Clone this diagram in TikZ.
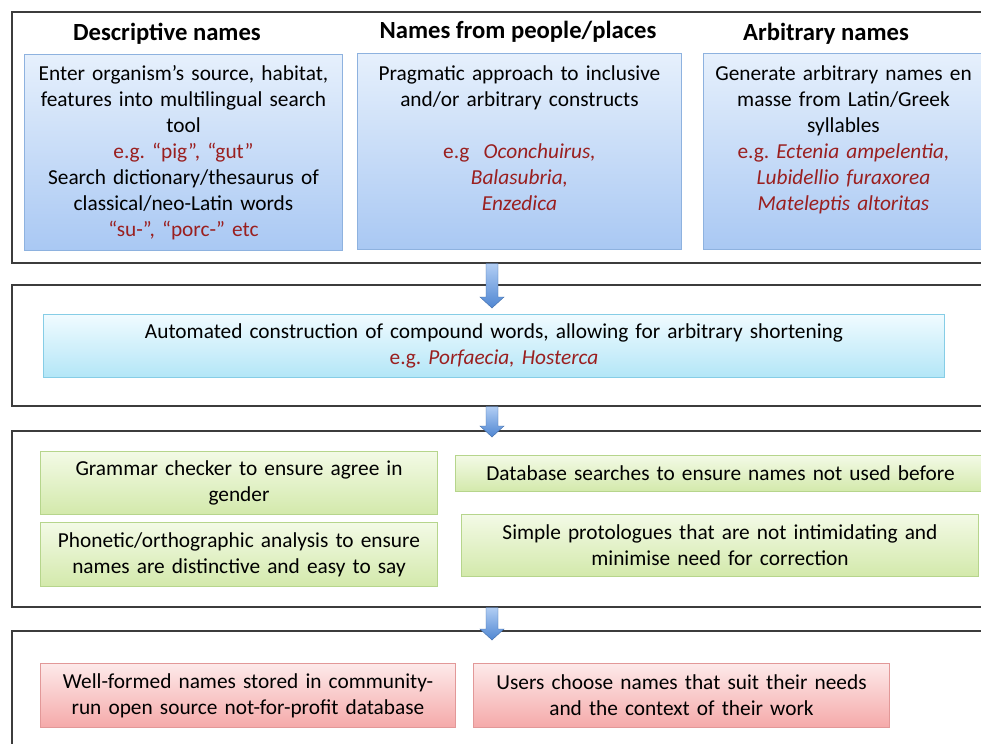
\documentclass[tikz,border=0pt]{standalone}
\usepackage{fontspec}
\setmainfont{Carlito}
\usetikzlibrary{calc}
\frenchspacing
\newdimen\px \px=0.75pt
\definecolor{dred}{HTML}{9A1F1F}
\definecolor{panelc}{HTML}{3C3C3C}
\definecolor{blueT}{HTML}{E6F0FC}
\definecolor{blueB}{HTML}{A9C8F3}
\definecolor{blueD}{HTML}{8EB2DF}
\definecolor{cyanT}{HTML}{F0FBFF}
\definecolor{cyanB}{HTML}{B3E6F7}
\definecolor{cyanD}{HTML}{86CDE6}
\definecolor{greenT}{HTML}{F3FAE6}
\definecolor{greenB}{HTML}{D3E9AB}
\definecolor{greenD}{HTML}{B6D58C}
\definecolor{redT}{HTML}{FDE9E9}
\definecolor{redB}{HTML}{F5AAAA}
\definecolor{redD}{HTML}{E29898}
\definecolor{arrT}{HTML}{B2CEF4}
\definecolor{arrB}{HTML}{4F86D2}
\newcommand\blkarrow[2]{%
  \path[arrowfill] ($(#1)+(-6,0)$) -- ($(#2)+(-6,-11)$) -- ($(#2)+(-12,-11)$) -- (#2)
    -- ($(#2)+(12,-11)$) -- ($(#2)+(6,-11)$) -- ($(#1)+(6,0)$) -- cycle;}
\tikzset{
  panel/.style={draw=panelc, line width=1.5\px, anchor=north west, inner sep=0pt},
  bx/.style n args={2}{anchor=north west, inner sep=0pt, align=center,
    text width=#1\px, minimum height=#2\px, line width=1\px,
    font=\fontsize{16}{19.5}\selectfont},
  bluebox/.style={top color=blueT, bottom color=blueB, draw=blueD},
  cyanbox/.style={top color=cyanT, bottom color=cyanB, draw=cyanD},
  greenbox/.style={top color=greenT, bottom color=greenB, draw=greenD},
  redbox/.style={top color=redT, bottom color=redB, draw=redD},
  heading/.style={font=\fontsize{18.5}{22}\selectfont\bfseries},
  arrowfill/.style={top color=arrT, bottom color=arrB, draw=arrB!80!black, line width=0.4\px},
}
\newcommand\ex[1]{\textcolor{dred}{#1}}
\begin{document}
\begin{tikzpicture}[x=\px, y=-\px]
\useasboundingbox (0,0) rectangle (981,743);
\clip (0,0) rectangle (981,743);
\fill[white] (0,0) rectangle (981,743);
% panels
\node[panel, minimum width=1000\px, minimum height=251\px] (p1) at (11,11) {};
\node[panel, minimum width=1000\px, minimum height=121\px] (p2) at (11,284) {};
\node[panel, minimum width=1000\px, minimum height=176\px] (p3) at (11,430) {};
\node[panel, minimum width=1000\px, minimum height=150\px] (p4) at (11,630) {};
% headings
\node[heading] (h1) at (167,34) {Descriptive names};
\node[heading] (h2) at (518,32) {Names from people/places};
\node[heading] (h3) at (826,34) {Arbitrary names};
% blue boxes
\node[bx={318}{196}, bluebox] (b1) at (24,54) {Enter organism’s source, habitat,\\ features into multilingual search\\ tool\\ \ex{e.g. “pig”, “gut”}\\ Search dictionary/thesaurus of\\ classical/neo-Latin words\\ \ex{“su-”, “porc-” etc}};
\node[bx={324}{196}, bluebox] (b2) at (357,53) {Pragmatic approach to inclusive\\ and/or arbitrary constructs\\ \mbox{}\\ \ex{e.g\ \ \textit{Oconchuirus,}}\\ \ex{\textit{Balasubria,}}\\ \ex{\textit{Enzedica}}\\ \mbox{}};
\node[bx={280}{196}, bluebox] (b3) at (703,53) {Generate arbitrary names en\\ masse from Latin/Greek\\ syllables\\ \ex{e.g. \textit{Ectenia ampelentia,}}\\ \ex{\textit{Lubidellio furaxorea}}\\ \ex{\textit{Mateleptis altoritas}}\\ \mbox{}};
% cyan box
\node[bx={901}{63}, cyanbox] (c1) at (43,314) {Automated construction of compound words, allowing for arbitrary shortening\\ \ex{e.g. \textit{Porfaecia, Hosterca}}};
% green boxes
\node[bx={397}{63}, greenbox] (g1) at (40,451) {Grammar checker to ensure agree in\\ gender};
\node[bx={397}{64}, greenbox] (g2) at (40,522) {Phonetic/orthographic analysis to ensure\\ names are distinctive and easy to say};
\node[bx={530}{36}, greenbox] (g3) at (455,455) {Database searches to ensure names not used before};
\node[bx={517}{62}, greenbox] (g4) at (461,514) {Simple protologues that are not intimidating and\\ minimise need for correction};
% red boxes
\node[bx={415}{64}, redbox] (r1) at (40,663) {Well-formed names stored in community-\\ run open source not-for-profit database};
\node[bx={416}{64}, redbox] (r2) at (473,663) {Users choose names that suit their needs\\ and the context of their work};
% arrows
\coordinate (t1) at (492,308);
\coordinate (t2) at (492,437);
\coordinate (t3) at (492,640);
\blkarrow{p1.south -| t1}{t1}
\blkarrow{p2.south -| t2}{t2}
\blkarrow{p3.south -| t3}{t3}
\end{tikzpicture}
\end{document}
